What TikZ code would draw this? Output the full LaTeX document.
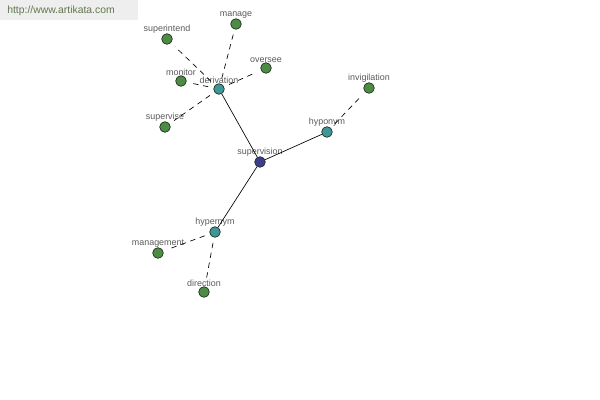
\documentclass[tikz,border=0pt]{standalone}
\usepackage{fontspec}
\setmainfont{Liberation Sans}
\usepackage{xcolor}
\definecolor{leafgreen}{HTML}{4E8C46}
\definecolor{relteal}{HTML}{3E9696}
\definecolor{rootblue}{HTML}{3E3E8E}
\definecolor{dotline}{HTML}{1E2A1E}
\definecolor{labelgray}{HTML}{5A5A5A}
\definecolor{markbg}{HTML}{EEEEEE}
\definecolor{marktext}{HTML}{607850}

\begin{document}
\begin{tikzpicture}[
      x=0.75pt, y=-0.75pt,
      dot/.style={circle, draw=dotline, line width=0.5pt, inner sep=0pt, minimum size=8pt,
        label={[font=\fontsize{6.7}{7}\selectfont, text=labelgray, inner sep=0pt, label distance=-0.5pt]above:#1}},
      leaf/.style={dot={#1}, fill=leafgreen},
      rel/.style={dot={#1}, fill=relteal},
      root/.style={dot={#1}, fill=rootblue},
      solidedge/.style={line width=0.5pt, black},
      dashedge/.style={line width=0.5pt, black, dash pattern=on 4pt off 3.5pt, shorten <=4pt, shorten >=4pt},
    ]
    \useasboundingbox (0,0) rectangle (600,400);
    % watermark
    \fill[markbg] (0,0) rectangle (138,20);
    \node[anchor=west, font=\fontsize{7.8}{9}\selectfont, text=marktext, inner sep=0pt] (mark) at (7,11) {http://www.artikata.com};

    % centre and relations
    \node[root={supervision}] (supervision) at (260,162) {};
    \node[rel={derivation}] (derivation) at (219,89) {};
    \node[rel={hyponym}] (hyponym) at (327,132) {};
    \node[rel={hypernym}] (hypernym) at (215,232) {};

    % words
    \node[leaf={superintend}] (superintend) at (167,39) {};
    \node[leaf={manage}] (manage) at (236,24) {};
    \node[leaf={oversee}] (oversee) at (266,68) {};
    \node[leaf={monitor}] (monitor) at (181,81) {};
    \node[leaf={supervise}] (supervise) at (165,127) {};
    \node[leaf={invigilation}] (invigilation) at (369,88) {};
    \node[leaf={management}] (management) at (158,253) {};
    \node[leaf={direction}] (direction) at (204,292) {};

    \draw[solidedge] (supervision) -- (derivation);
    \draw[solidedge] (supervision) -- (hyponym);
    \draw[solidedge] (supervision) -- (hypernym);

    \draw[dashedge] (derivation) -- (superintend);
    \draw[dashedge] (derivation) -- (manage);
    \draw[dashedge] (derivation) -- (oversee);
    \draw[dashedge] (derivation) -- (monitor);
    \draw[dashedge] (derivation) -- (supervise);
    \draw[dashedge] (hyponym) -- (invigilation);
    \draw[dashedge] (hypernym) -- (management);
    \draw[dashedge] (hypernym) -- (direction);
  \end{tikzpicture}
\end{document}
